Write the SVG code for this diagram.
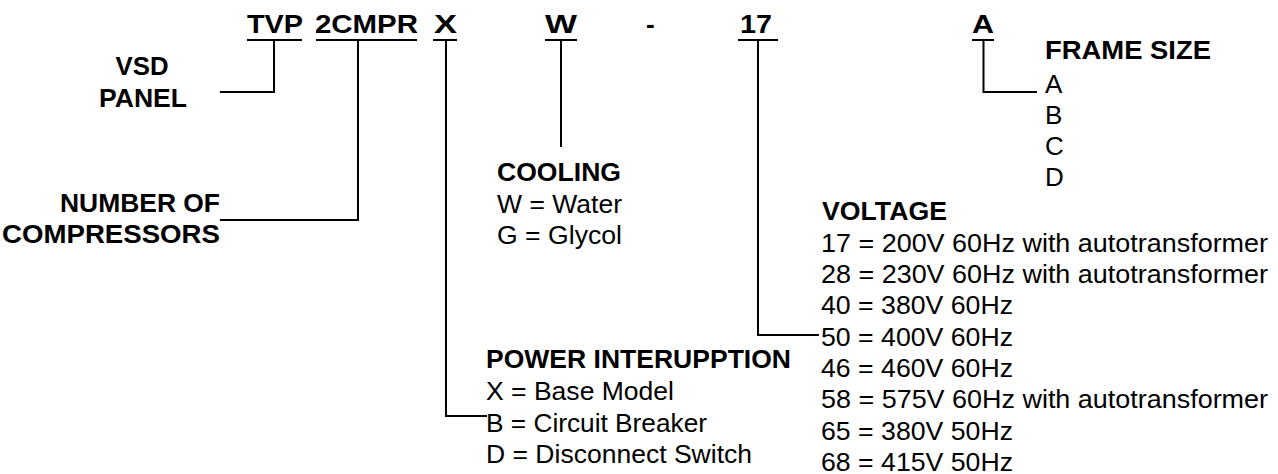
<svg xmlns="http://www.w3.org/2000/svg" width="1278" height="474" viewBox="0 0 1278 474">
<style>
text{font-family:"Liberation Sans",Arial,Helvetica,sans-serif;font-size:26px;fill:#000}
.b{font-weight:bold}
.code{font-weight:bold;font-size:26px}
.ln{stroke:#000;stroke-width:2;fill:none}
</style>
<rect width="1278" height="474" fill="#fff"/>
<g id="codes">
<text class="code" x="247" y="33" textLength="56" lengthAdjust="spacingAndGlyphs">TVP</text>
<text class="code" x="315" y="33" textLength="103" lengthAdjust="spacingAndGlyphs">2CMPR</text>
<text class="code" x="434" y="33" textLength="23" lengthAdjust="spacingAndGlyphs">X</text>
<text class="code" x="545" y="33" textLength="32" lengthAdjust="spacingAndGlyphs">W</text>
<text class="code" x="646" y="33">-</text>
<text class="code" x="740" y="33" textLength="32" lengthAdjust="spacingAndGlyphs">17</text>
<text class="code" x="972" y="33" textLength="22" lengthAdjust="spacingAndGlyphs">A</text>
<path class="ln" d="M247 40H302M316 40H417M433 40H457M545 40H577M738 40H778M972 40H994"/>
</g>
<g id="connectors">
<path class="ln" d="M274 40V92H220"/>
<path class="ln" d="M358 40V220H220"/>
<path class="ln" d="M446 40V416H487"/>
<path class="ln" d="M561 40V147"/>
<path class="ln" d="M758 40V335H819"/>
<path class="ln" d="M983.5 40V92H1037"/>
</g>
<g id="vsd-panel">
<text class="b" x="142" y="75" text-anchor="middle" textLength="53" lengthAdjust="spacingAndGlyphs">VSD</text>
<text class="b" x="143" y="107" text-anchor="middle" textLength="88" lengthAdjust="spacingAndGlyphs">PANEL</text>
</g>
<g id="compressors">
<text class="b" x="220" y="211.5" text-anchor="end" textLength="160" lengthAdjust="spacingAndGlyphs">NUMBER OF</text>
<text class="b" x="220" y="242.5" text-anchor="end" textLength="218" lengthAdjust="spacingAndGlyphs">COMPRESSORS</text>
</g>
<g id="cooling">
<text class="b" x="497" y="181" textLength="124" lengthAdjust="spacingAndGlyphs">COOLING</text>
<text x="497" y="213" textLength="125" lengthAdjust="spacingAndGlyphs">W = Water</text>
<text x="497" y="244" textLength="125" lengthAdjust="spacingAndGlyphs">G = Glycol</text>
</g>
<g id="power-interruption">
<text class="b" x="486" y="368" textLength="305" lengthAdjust="spacingAndGlyphs">POWER INTERUPPTION</text>
<text x="486" y="400" textLength="188" lengthAdjust="spacingAndGlyphs">X = Base Model</text>
<text x="486" y="431.5" textLength="221" lengthAdjust="spacingAndGlyphs">B = Circuit Breaker</text>
<text x="486" y="462.5" textLength="266" lengthAdjust="spacingAndGlyphs">D = Disconnect Switch</text>
</g>
<g id="frame-size">
<text class="b" x="1045" y="59" textLength="166" lengthAdjust="spacingAndGlyphs">FRAME SIZE</text>
<text x="1045" y="92.5">A</text>
<text x="1045" y="123.5">B</text>
<text x="1045" y="155">C</text>
<text x="1045" y="186">D</text>
</g>
<g id="voltage">
<text class="b" x="822" y="219.5" textLength="125" lengthAdjust="spacingAndGlyphs">VOLTAGE</text>
<text x="821" y="251.5" textLength="447" lengthAdjust="spacingAndGlyphs">17 = 200V 60Hz with autotransformer</text>
<text x="821" y="282.8" textLength="447" lengthAdjust="spacingAndGlyphs">28 = 230V 60Hz with autotransformer</text>
<text x="821" y="314" textLength="192" lengthAdjust="spacingAndGlyphs">40 = 380V 60Hz</text>
<text x="821" y="345.5" textLength="192" lengthAdjust="spacingAndGlyphs">50 = 400V 60Hz</text>
<text x="821" y="377" textLength="192" lengthAdjust="spacingAndGlyphs">46 = 460V 60Hz</text>
<text x="821" y="408.3" textLength="447" lengthAdjust="spacingAndGlyphs">58 = 575V 60Hz with autotransformer</text>
<text x="821" y="440" textLength="192" lengthAdjust="spacingAndGlyphs">65 = 380V 50Hz</text>
<text x="821" y="470.7" textLength="192" lengthAdjust="spacingAndGlyphs">68 = 415V 50Hz</text>
</g>
</svg>
